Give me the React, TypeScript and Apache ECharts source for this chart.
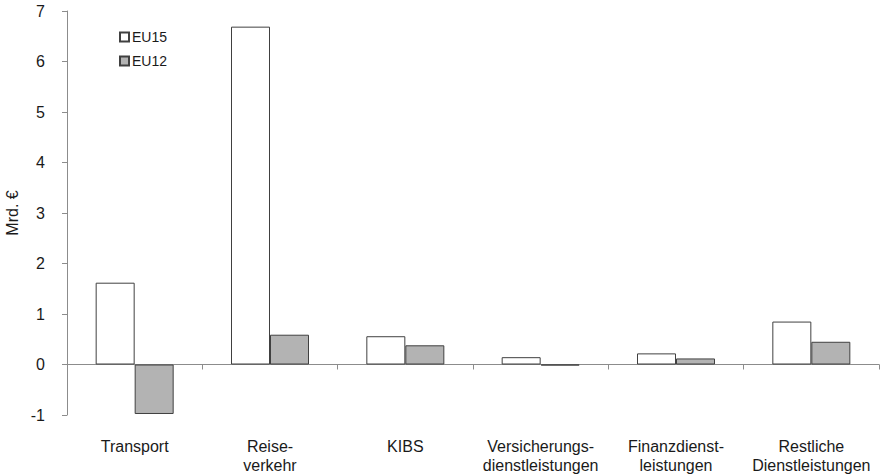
import React, { useEffect, useRef } from "react";
import * as echarts from "echarts";

const categories = [
  "Transport",
  "Reise-\nverkehr",
  "KIBS",
  "Versicherungs-\ndienstleistungen",
  "Finanzdienst-\nleistungen",
  "Restliche\nDienstleistungen",
];
const eu15 = [1.62, 6.69, 0.56, 0.145, 0.22, 0.85];
const eu12 = [-0.98, 0.59, 0.38, -0.02, 0.12, 0.45];
const yName = "Mrd. €";

const FONT = "'Liberation Sans', Arial, sans-serif";
const AXIS = "#8c8c8c";
const TXT = "#1a1a1a";

export default function App() {
  const ref = useRef<HTMLDivElement>(null);
  useEffect(() => {
    if (!ref.current) return;
    const chart = echarts.init(ref.current, undefined, { renderer: "svg" });
    chart.setOption({
      animation: false,
      textStyle: { fontFamily: FONT },
      grid: {
        left: 67,
        right: 6,
        top: 11,
        bottom: 60,
        containLabel: false,
        outerBoundsMode: "none",
      },
      legend: {
        orient: "vertical",
        left: 114,
        top: 25,
        itemWidth: 9,
        itemHeight: 9,
        itemGap: 10,
        icon: "rect",
        textStyle: { fontFamily: FONT, fontSize: 14, color: TXT, padding: [0, 0, 0, -2] },
        data: ["EU15", "EU12"],
      },
      graphic: [
        {
          type: "text",
          x: 12,
          y: 213,
          rotation: Math.PI / 2,
          style: {
            text: yName,
            fontFamily: FONT,
            fontSize: 16,
            fill: TXT,
            align: "center",
            verticalAlign: "middle",
          },
        },
      ],
      xAxis: {
        type: "category",
        data: categories,
        axisLine: { onZero: true, lineStyle: { color: AXIS, width: 1 } },
        axisTick: { show: true, length: 5, lineStyle: { color: AXIS } },
        axisLabel: {
          margin: 22,
          fontFamily: FONT,
          fontSize: 16,
          color: TXT,
          lineHeight: 19,
          interval: 0,
        },
        splitLine: { show: false },
      },
      yAxis: {
        type: "value",
        min: -1,
        max: 7,
        interval: 1,
        axisLine: { show: true, lineStyle: { color: AXIS, width: 1 } },
        axisTick: { show: true, length: 5, lineStyle: { color: AXIS } },
        axisLabel: { margin: 22, fontFamily: FONT, fontSize: 16, color: TXT },
        splitLine: { show: false },
      },
      series: [
        {
          name: "EU15",
          type: "bar",
          data: eu15,
          barWidth: 39,
          barGap: "0%",
          itemStyle: { color: "#ffffff", borderColor: "#404040", borderWidth: 1 },
        },
        {
          name: "EU12",
          type: "bar",
          data: eu12,
          barWidth: 39,
          barGap: "0%",
          itemStyle: { color: "#b3b3b3", borderColor: "#404040", borderWidth: 1 },
        },
      ],
    });
    return () => chart.dispose();
  }, []);
  return (
    <div
      ref={ref}
      style={{ position: "absolute", left: 0, top: 0, width: 885, height: 475 }}
    />
  );
}
